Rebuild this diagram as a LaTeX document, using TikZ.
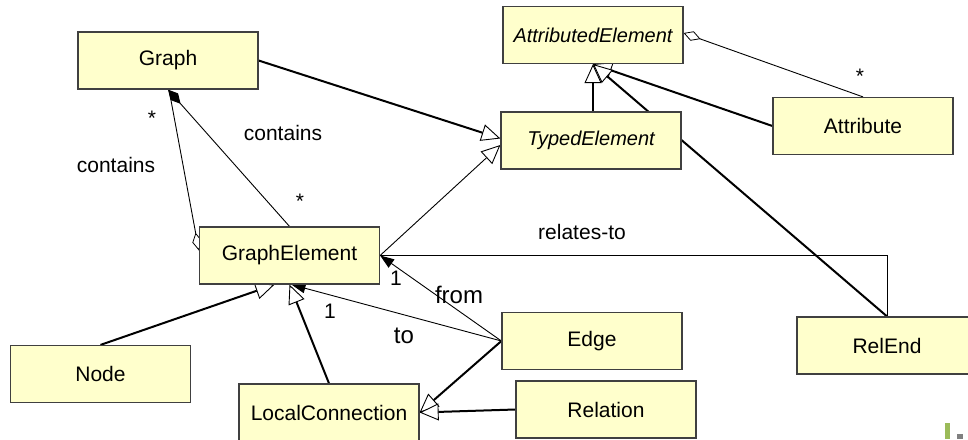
\documentclass[tikz,border=0pt]{standalone}
\usepackage{fontspec}
\setmainfont{Liberation Sans}
\usetikzlibrary{arrows.meta}
\pgfdeclarelayer{bg}
\pgfsetlayers{bg,main}
\definecolor{boxfill}{HTML}{FFFFCC}
\definecolor{boxline}{HTML}{404040}
\definecolor{deco green}{HTML}{9BBB59}
\definecolor{deco gray}{HTML}{808080}
\tikzset{
  cls/.style={draw=boxline, fill=boxfill, line width=1.2pt, minimum width=180pt,
    minimum height=57pt, inner sep=0pt, font=\fontsize{21}{25}\selectfont},
  ital/.style={font=\fontsize{20}{24}\selectfont\itshape},
  lbl/.style={anchor=base, inner sep=0pt, font=\fontsize{21}{25}\selectfont},
  biglbl/.style={anchor=base, inner sep=0pt, font=\fontsize{24}{28}\selectfont},
  thickl/.style={line width=2pt, black},
  thinl/.style={line width=0.9pt, black},
  gen/.style={-{Triangle[open, fill=white, length=19pt, width=17pt, line width=0.9pt]}},
  nav/.style={-{Triangle[length=14pt, width=10pt]}},
  compo/.style={{Diamond[length=19pt, width=10pt]}-},
  aggr/.style={-{Diamond[open, fill=white, length=18pt, width=10pt, line width=0.8pt]}},
}
\begin{document}
\begin{tikzpicture}[x=1pt, y=-1pt]
\useasboundingbox (0,0) rectangle (968,439);
\clip (0,0) rectangle (968,439);
% classes
\node[cls] (graph) at (168,60.5) {Graph};
\node[cls, ital] (ae) at (593,35) {AttributedElement};
\node[cls, ital] (te) at (591,140.5) {TypedElement};
\node[cls] (attr) at (863,126) {Attribute};
\node[cls] (relend) at (887,345.5) {RelEnd};
\node[cls] (ge) at (289.5,255.5) {GraphElement};
\node[cls] (edge) at (592,341) {Edge};
\node[cls] (rel) at (606,409.5) {Relation};
\node[cls] (lc) at (329,412.5) {LocalConnection};
\node[cls] (nd) at (100.5,374) {Node};
% connectors
\begin{pgfonlayer}{bg}
\draw[thickl, gen] (graph.east) -- ([yshift=2pt]te.west);
\draw[thinl, gen] (ge.east) -- ([yshift=-4.5pt]te.west);
\draw[thickl, gen] (ae.south |- te.north) -- (ae.south);
\draw[thickl, gen] (attr.west) -- (ae.south);
\draw[thickl, gen] (relend.north) -- (ae.south);
\draw[thinl, aggr] (attr.north) -- ([yshift=2pt]ae.east);
\draw[thinl, compo] (graph.south) -- (ge.north);
\draw[thinl, aggr] ([xshift=1pt]graph.south) -- ([yshift=5pt]ge.west);
\draw[thickl, gen] (nd.north) -- ([xshift=-15pt]ge.south);
\draw[thickl, gen] (lc.north) -- (ge.south);
\draw[thinl, nav] (edge.west) -- ([xshift=2pt]ge.south);
\draw[thinl, nav] (edge.west) -- (ge.east);
\draw[thickl, gen] (edge.west) -- (lc.east);
\draw[thickl, gen] (rel.west) -- (lc.east);
\draw[thinl] (relend.north) |- (ge.east);
\end{pgfonlayer}
% labels
\node[lbl] (s1) at (152,125) {*};
\node[lbl] (c1) at (116,172) {contains};
\node[lbl] (c2) at (283,140) {contains};
\node[lbl] (s2) at (300,208) {*};
\node[lbl] (s3) at (860,83) {*};
\node[lbl] (rt) at (582,239) {relates-to};
\node[lbl] (one1) at (396,285) {1};
\node[biglbl] (fr) at (459,303) {from};
\node[lbl] (one2) at (330,318) {1};
\node[biglbl] (to) at (404,343) {to};
% slide decorations
\fill[deco green] (945,423) rectangle (950,439);
\fill[deco gray] (957,434) rectangle (963,439);
\end{tikzpicture}
\end{document}
